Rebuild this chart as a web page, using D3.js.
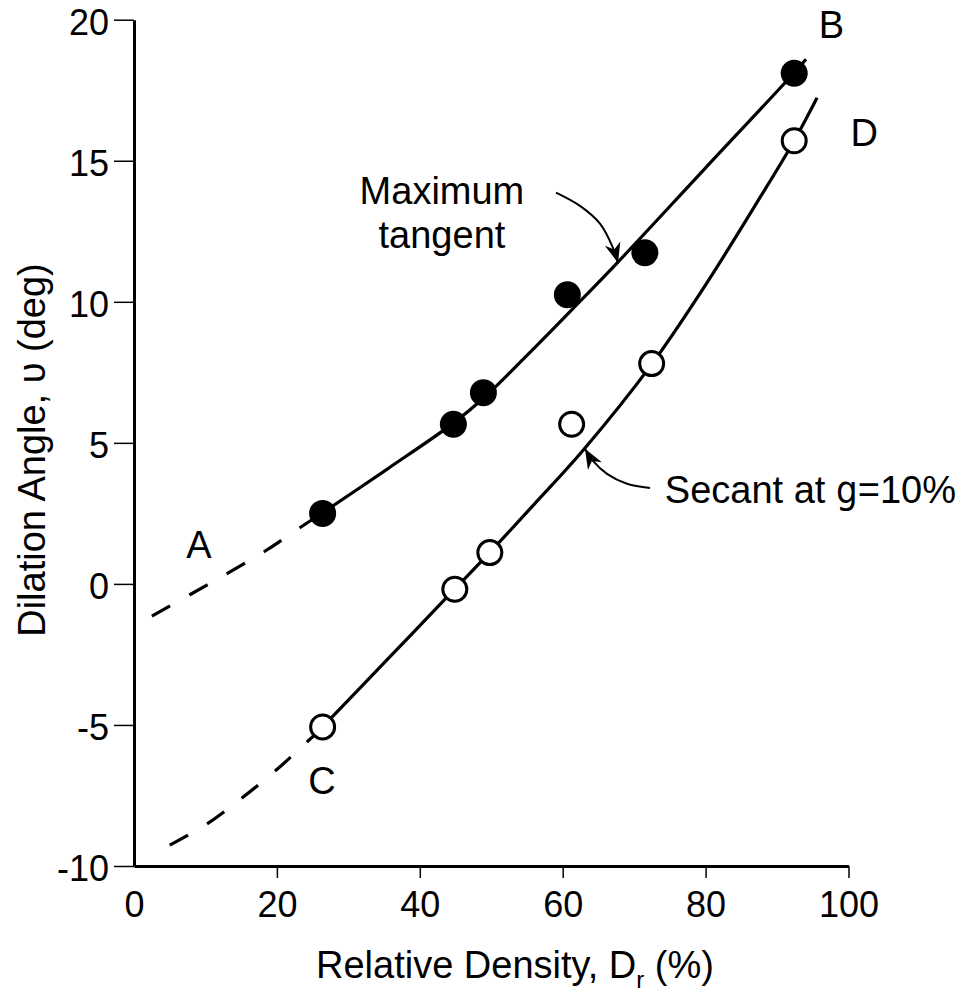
<!DOCTYPE html>
<html>
<head>
<meta charset="utf-8">
<script src="https://cdn.jsdelivr.net/npm/d3@7"></script>
<style>
  body { margin: 0; background: #fff; }
  text { font-family: "Liberation Sans", Arial, Helvetica, sans-serif; fill: #000; }
</style>
</head>
<body>
<div id="chart"></div>
<script>
// measured points (relative density %, dilation angle deg)
var tangentPts = [[26.4, 2.5], [44.7, 5.66], [48.9, 6.78], [60.65, 10.25], [71.5, 11.74], [92.4, 18.1]];
var secantPts = [[26.4, -5.07], [44.9, -0.19], [49.8, 1.11], [61.25, 5.66], [72.45, 7.81], [92.4, 15.71]];

// fitted curves
var tangentDash = [[2.5, -1.14], [10.2, -0.04], [18.2, 1.14], [23.2, 1.99], [26.4, 2.52]];
var tangentLine = [[26.4, 2.52], [35.5, 4.08], [44.7, 5.7], [48.9, 6.58], [55, 8.1], [61.4, 9.75],
  [67.7, 11.4], [80, 14.75], [92.4, 18.12], [94.05, 18.6]];
var secantDash = [[5.0, -9.26], [10.2, -8.51], [15.1, -7.59], [19.9, -6.6], [24.35, -5.57], [26.4, -5.07]];
var secantLine = [[26.4, -5.07], [35.5, -2.67], [44.9, -0.18], [49.8, 1.12], [56, 2.82], [62.8, 4.72],
  [72.5, 7.8], [80, 10.6], [87.6, 13.69], [92.4, 15.71], [95.6, 17.23]];

var xTicks = [0, 20, 40, 60, 80, 100];
var yTicks = [-10, -5, 0, 5, 10, 15, 20];

// annotation arrows
var tangentArrow = [[59.06, 13.87], [62.42, 13.4], [65.22, 12.77], [67.04, 11.91], [67.74, 11.38]];
var secantArrow = [[72.22, 3.4], [69.0, 3.55], [66.2, 3.9], [64.24, 4.36], [63.12, 4.79]];

var letters = [{t: 'A', x: 9.1, y: 0.92}, {t: 'B', x: 97.6, y: 19.36}, {t: 'C', x: 26.3, y: -7.45}, {t: 'D', x: 102.2, y: 15.53}];

var W = 963, H = 995;
var x = d3.scaleLinear().domain([0, 100]).range([134, 848.5]);
var y = d3.scaleLinear().domain([-10, 20]).range([866, 19.7]);

var svg = d3.select('#chart').append('svg')
  .attr('width', W)
  .attr('height', H);

svg.append('defs').append('marker')
  .attr('id', 'head')
  .attr('viewBox', '-22 -10 24 20')
  .attr('refX', 0)
  .attr('refY', 0)
  .attr('markerWidth', 24)
  .attr('markerHeight', 20)
  .attr('markerUnits', 'userSpaceOnUse')
  .attr('orient', 'auto')
  .append('path')
  .attr('d', 'M0,0L-20,-8L-14,0L-20,8Z')
  .attr('fill', '#000');

// axes
var gy = svg.append('g')
  .attr('transform', 'translate(134,0)')
  .call(d3.axisLeft(y).tickValues(yTicks).tickSize(20).tickSizeOuter(0).tickPadding(5)
    .tickFormat(function (d) { return String(d); }));
gy.select('.domain').attr('stroke-width', 3);
gy.selectAll('.tick line').attr('stroke-width', 1.5);
gy.selectAll('.tick text').attr('font-size', 36).attr('dy', '0.4em')
  .style('font-family', '"Liberation Sans", Arial, sans-serif');

var gx = svg.append('g')
  .attr('transform', 'translate(0,866)')
  .call(d3.axisBottom(x).tickValues(xTicks).tickSize(12).tickSizeOuter(0).tickPadding(13)
    .tickFormat(function (d) { return String(d); }));
gx.select('.domain').attr('stroke-width', 3);
gx.selectAll('.tick line').attr('stroke-width', 1.5)
  .filter(function (d) { return d === 0; }).remove();
gx.selectAll('.tick text').attr('font-size', 36)
  .style('font-family', '"Liberation Sans", Arial, sans-serif');

var xl = svg.append('text')
  .attr('x', 316)
  .attr('y', 978)
  .attr('font-size', 38);
xl.append('tspan').text('Relative Density, D');
xl.append('tspan').attr('font-size', 24).attr('dy', 10).text('r');
xl.append('tspan').attr('dy', -10).text(' (%)');

svg.append('text')
  .attr('transform', 'translate(45,450) rotate(-90)')
  .attr('text-anchor', 'middle')
  .attr('font-size', 38)
  .text('Dilation Angle, υ (deg)');

// curves
var line = d3.line()
  .x(function (d) { return x(d[0]); })
  .y(function (d) { return y(d[1]); })
  .curve(d3.curveCatmullRom.alpha(0.5));

[tangentLine, secantLine].forEach(function (c) {
  svg.append('path').attr('d', line(c))
    .attr('fill', 'none').attr('stroke', '#000').attr('stroke-width', 3.2);
});
[tangentDash, secantDash].forEach(function (c) {
  svg.append('path').attr('d', line(c))
    .attr('fill', 'none').attr('stroke', '#000').attr('stroke-width', 3.2)
    .attr('stroke-dasharray', '21,22');
});

// points
svg.selectAll('circle.tan').data(tangentPts).enter().append('circle')
  .attr('class', 'tan')
  .attr('cx', function (d) { return x(d[0]); })
  .attr('cy', function (d) { return y(d[1]); })
  .attr('r', 13.5)
  .attr('fill', '#000');

svg.selectAll('circle.sec').data(secantPts).enter().append('circle')
  .attr('class', 'sec')
  .attr('cx', function (d) { return x(d[0]); })
  .attr('cy', function (d) { return y(d[1]); })
  .attr('r', 12)
  .attr('fill', '#fff')
  .attr('stroke', '#000')
  .attr('stroke-width', 3);

// annotations
[tangentArrow, secantArrow].forEach(function (a) {
  svg.append('path').attr('d', line(a))
    .attr('fill', 'none').attr('stroke', '#000').attr('stroke-width', 2)
    .attr('marker-end', 'url(#head)');
});

svg.append('text').attr('x', x(43.1)).attr('y', y(13.48))
  .attr('text-anchor', 'middle').attr('font-size', 38).text('Maximum');
svg.append('text').attr('x', x(43.1)).attr('y', y(11.91))
  .attr('text-anchor', 'middle').attr('font-size', 38).text('tangent');

var sec = svg.append('text').attr('x', x(74.3)).attr('y', y(2.87)).attr('font-size', 38);
sec.append('tspan').text('Secant at ');
sec.append('tspan').attr('font-size', 38)
  .style('font-family', '"Liberation Sans Narrow", "DejaVu Sans Condensed", sans-serif')
  .style('font-stretch', 'condensed').text('g');
sec.append('tspan').text('=10%');

svg.selectAll('text.letter').data(letters).enter().append('text')
  .attr('class', 'letter')
  .attr('x', function (d) { return x(d.x); })
  .attr('y', function (d) { return y(d.y); })
  .attr('text-anchor', 'middle')
  .attr('font-size', 38)
  .text(function (d) { return d.t; });
</script>
</body>
</html>
